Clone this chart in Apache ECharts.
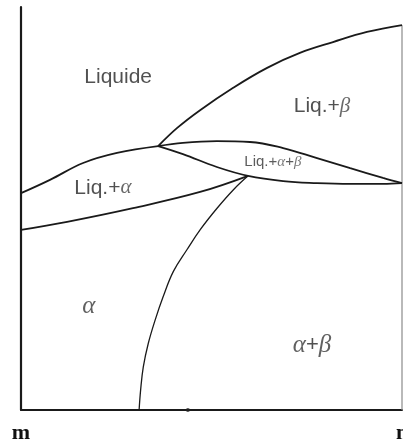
<!DOCTYPE html>
<html>
<head>
<meta charset="utf-8">
<script src="https://cdn.jsdelivr.net/npm/echarts@6/dist/echarts.min.js"></script>
<style>
  html, body { margin: 0; padding: 0; background: #fff; }
  #chart { width: 403px; height: 439px; }
</style>
</head>
<body>
<div id="chart"></div>
<script>
// Binary phase diagram m–n: composition (x, 0–100) vs temperature (y, 0–100)

// Liquidus of the α side
const liquidusAlpha = [[0, 53.8], [7.6, 57.1], [16.3, 61.3], [25.2, 63.8], [36.0, 65.5]];
// Solidus of the α side
const solidusAlpha = [[0, 44.7], [12.1, 46.7], [29.4, 50.1], [47.0, 54.1], [59.6, 58.1]];
// Liquidus of the β side
const liquidusBeta = [[36.0, 65.5], [41.0, 70.0], [47.0, 74.4], [55.6, 79.9], [64.6, 84.9],
                      [73.2, 88.6], [81.9, 91.3], [90.8, 93.8], [100, 95.5]];
// Upper boundary of the three-phase lens
const lensUpper = [[36.0, 65.5], [42.5, 66.3], [51.4, 66.7], [60.1, 66.5], [68.8, 65.0],
                   [77.7, 62.5], [86.4, 60.0], [95.0, 57.6], [100, 56.3]];
// Lower boundary of the three-phase lens
const lensLower = [[36.0, 65.5], [42.5, 63.5], [51.4, 60.3], [59.6, 58.1], [68.8, 56.8],
                   [77.7, 56.3], [86.4, 56.1], [95.0, 56.1], [100, 56.3]];
// Solvus between α and α+β
const solvus = [[59.6, 58.1], [55.7, 54.6], [51.4, 50.0], [47.0, 44.7], [43.5, 39.7],
                [40.0, 34.4], [37.3, 28.1], [35.2, 22.3], [33.4, 16.5], [32.1, 10.7],
                [31.4, 5.0], [31.0, 0]];
// Right-hand boundary (pure n)
const rightEdge = [[100, 0], [100, 95.5]];
// Small mark on the composition axis
const axisMarks = [[43.8, 0]];

// Phase field names and where they sit
const fieldNames = ['Liquide', 'Liq.+β', 'Liq.+α', 'Liq.+α+β', 'α', 'α+β'];
const fieldPos = [[25.5, 82.6], [79.0, 75.4], [21.5, 55.1], [66.1, 61.5], [17.8, 25.6], [76.4, 16.1]];

// Axis end labels
const endLabels = { 0: 'm', 100: 'n' };

const chart = echarts.init(document.getElementById('chart'), null, { renderer: 'canvas' });

const lineColor = '#1a1a1a';
function boundary(data, width) {
  return {
    type: 'line', data: data, symbol: 'none', smooth: 0.4,
    silent: true, lineStyle: { color: lineColor, width: width || 1.8 }, z: 3
  };
}

// Rich-text pieces: Latin in sans, Greek letters in italic serif
function richText(name, size) {
  const parts = name.split(/(α|β)/).filter(s => s.length);
  return parts.map(p => (p === 'α' || p === 'β') ? '{g' + size + '|' + p + '}' : '{s' + size + '|' + p + '}').join('');
}
const fieldSize = ['A', 'A', 'A', 'B', 'C', 'C'];

const labelData = fieldNames.map((n, i) => ({
  value: fieldPos[i],
  label: { formatter: richText(n, fieldSize[i]) }
}));

chart.setOption({
  animation: false,
  backgroundColor: '#ffffff',
  grid: { left: 21, right: 1, top: 7, bottom: 29, containLabel: false, outerBoundsMode: 'none' },
  xAxis: {
    type: 'value', min: 0, max: 100, interval: 100,
    axisLine: { show: true, onZero: false, lineStyle: { color: '#1a1a1a', width: 2 } },
    axisTick: { show: false },
    splitLine: { show: false },
    axisLabel: {
      show: true, margin: 12, showMinLabel: true, showMaxLabel: true, hideOverlap: false,
      fontFamily: 'Liberation Serif', fontWeight: 'bold', fontSize: 22, color: '#111',
      formatter: v => endLabels[v] || ''
    }
  },
  yAxis: {
    type: 'value', min: 0, max: 100,
    axisLine: { show: true, onZero: false, lineStyle: { color: '#1a1a1a', width: 2.2 } },
    axisTick: { show: false },
    splitLine: { show: false },
    axisLabel: { show: false }
  },
  series: [
    boundary(liquidusAlpha),
    boundary(solidusAlpha),
    boundary(liquidusBeta),
    boundary(lensUpper),
    boundary(lensLower),
    boundary(solvus, 1.3),
    { type: 'line', data: rightEdge, symbol: 'none', silent: true,
      lineStyle: { color: '#8a8a8a', width: 1.2 }, z: 2 },
    { type: 'scatter', data: axisMarks, symbol: 'circle', symbolSize: 4, silent: true,
      itemStyle: { color: '#222' }, z: 4 },
    {
      type: 'scatter', data: labelData, symbolSize: 0, silent: true, z: 5,
      label: {
        show: true, position: 'inside', color: '#222',
        rich: {
          sA: { fontFamily: 'Liberation Sans', fontSize: 21, color: '#262626' },
          gA: { fontFamily: 'Liberation Serif', fontStyle: 'italic', fontSize: 21, color: '#444' },
          sB: { fontFamily: 'Liberation Sans', fontSize: 15, color: '#333' },
          gB: { fontFamily: 'Liberation Serif', fontStyle: 'italic', fontSize: 15, color: '#555' },
          sC: { fontFamily: 'Liberation Sans', fontSize: 22, color: '#262626' },
          gC: { fontFamily: 'Liberation Serif', fontStyle: 'italic', fontSize: 25, color: '#3a3a3a' }
        }
      }
    }
  ]
});
</script>
</body>
</html>
